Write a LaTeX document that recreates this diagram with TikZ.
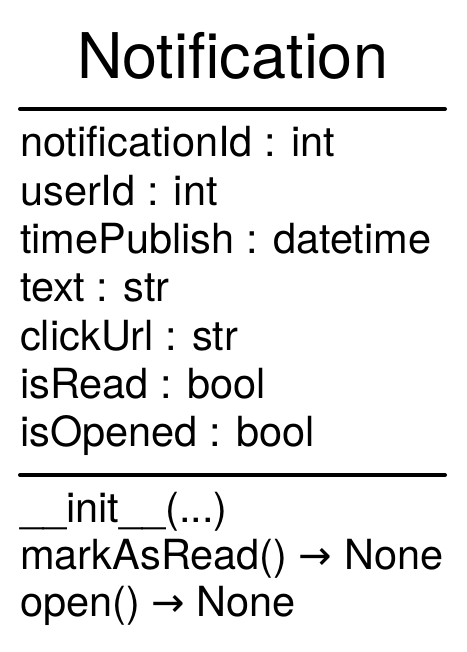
\documentclass[tikz,border=0pt]{standalone}
\usepackage{fontspec}
\setmainfont{TeX Gyre Heros}
\newfontfamily\arrowfont{DejaVu Sans}
\usetikzlibrary{positioning}

\begin{document}
\begin{tikzpicture}[
        x=1pt, y=1pt,
        %Styles
        Title/.style={
            anchor=base,
            inner sep=0pt,
            font=\fontsize{63}{70}\selectfont,
        },
        Entry/.style={
            anchor=base west,
            inner sep=0pt,
            font=\fontsize{41.5}{48}\selectfont,
        },
        Rule/.style={
            line width=4pt,
            line cap=round,
        }
    ]

\useasboundingbox (0,0) rectangle (466,-652);

%class name
\node[Title] (title) at (232.5,-79) {Notification};

%separators
\coordinate (r1w) at (20,-109);
\coordinate (r1e) at (445,-109);
\coordinate (r2w) at (20,-475);
\coordinate (r2e) at (445,-475);
\draw[Rule] (r1w) -- (r1e);
\draw[Rule] (r2w) -- (r2e);

%attributes
\foreach \txt [count=\i] in {notificationId : int, userId : int, timePublish : datetime,
    text : str, clickUrl : str, isRead : bool, isOpened : bool}
  \node[Entry] (attr-\i) at (20,{-157-48.3*(\i-1)}) {\txt};

%methods
\node[Entry] (meth-1) at (20,-522) {\_\_init\_\_(...)};
\node[Entry] (meth-2) at (20,-569) {markAsRead() {\arrowfont\fontsize{40}{48}\selectfont →} None};
\node[Entry] (meth-3) at (20,-616) {open() {\arrowfont\fontsize{40}{48}\selectfont →} None};

\end{tikzpicture}
\end{document}
